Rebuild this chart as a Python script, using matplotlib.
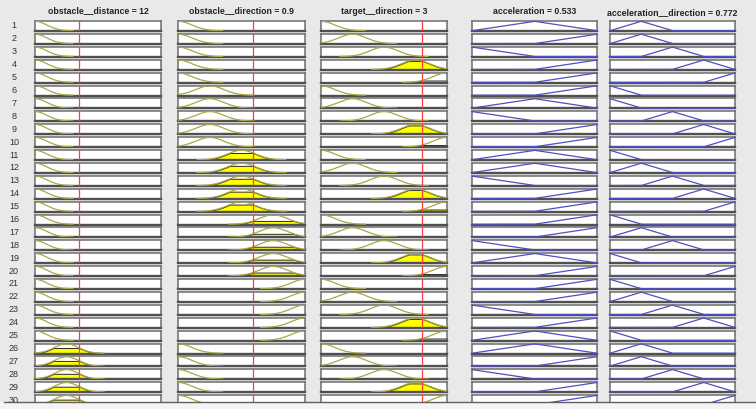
import numpy as np
import matplotlib.pyplot as plt
from matplotlib.patches import Rectangle
from matplotlib.lines import Line2D

plt.rcParams['font.family'] = ['Liberation Sans', 'DejaVu Sans']

# membership function used by each of the 30 rules
rules = list(range(1, 31))
obstacle_distance_mf = [1, 1, 1, 1, 1, 1, 1, 1, 1, 1, 1, 1, 1, 1, 1,
                        1, 1, 1, 1, 1, 1, 1, 1, 1, 1, 2, 2, 2, 2, 2]
obstacle_direction_mf = [1, 1, 1, 1, 1, 2, 2, 2, 2, 2, 3, 3, 3, 3, 3,
                         4, 4, 4, 4, 4, 5, 5, 5, 5, 5, 1, 1, 1, 1, 1]
target_direction_mf = [1, 2, 3, 4, 5, 1, 2, 3, 4, 5, 1, 2, 3, 4, 5,
                       1, 2, 3, 4, 5, 1, 2, 3, 4, 5, 1, 2, 3, 4, 5]
acceleration_mf = [2, 3, 1, 3, 3, 3, 2, 1, 3, 3, 2, 2, 1, 3, 3,
                   3, 3, 1, 2, 3, 3, 3, 1, 3, 2, 2, 3, 1, 3, 3]
acc_direction_mf = [2, 2, 3, 4, 5, 1, 1, 3, 4, 5, 1, 2, 3, 4, 5,
                    1, 2, 3, 1, 5, 1, 2, 3, 4, 1, 2, 2, 3, 4, 5]

# inputs: range, gaussian centres, sigma, current value
dist_range = [0, 34]
dist_centers = [0, 8.5]
dist_sigma = 3.2
dist_input = 12

dir_range = [-5, 5]
dir_centers = [-5, -2.5, 0, 2.5, 5]
dir_sigma = 1.1
obs_dir_input = 0.9
tgt_dir_input = 3

# outputs: triangular MFs on [0, 1]
acc_peaks = [0, 0.5, 1]
accdir_peaks = [0, 0.25, 0.5, 0.75, 1]

titles = ['obstacle__distance = 12', 'obstacle__direction = 0.9',
          'target__direction = 3', 'acceleration = 0.533',
          'acceleration__direction = 0.772']

W, H = 756, 409
fig = plt.figure(figsize=(W / 100, H / 100), dpi=100)
fig.patch.set_facecolor('#e9e9e9')

col_left = [35, 178, 321, 472, 610]
col_width = [126, 127, 126, 125, 125]
row_top0, row_pitch, row_h = 21, 12.9, 10

olive = '#a9a845'
blue = '#4f4fc4'


def gauss(x, c, s):
    return np.exp(-(x - c) ** 2 / (2 * s ** 2))


def tri(x, peaks, i):
    p = peaks[i]
    step = peaks[1] - peaks[0]
    return np.clip(1 - np.abs(x - p) / step, 0, 1)


def make_ax(r, c):
    top = row_top0 + r * row_pitch
    ax = fig.add_axes([col_left[c] / W, 1 - (top + row_h) / H,
                       col_width[c] / W, row_h / H])
    ax.set_facecolor('white')
    ax.set_xticks([])
    ax.set_yticks([])
    for s in ax.spines.values():
        s.set_color('#6d6d6d')
        s.set_linewidth(1.1)
    ax.spines['bottom'].set_color('#505050')
    ax.spines['bottom'].set_linewidth(1.7)
    ax.set_ylim(-0.03, 1.03)
    return ax


def input_mf(ax, rng, centers, sigma, idx, value):
    x = np.linspace(rng[0], rng[1], 300)
    y = gauss(x, centers[idx], sigma)
    level = gauss(value, centers[idx], sigma)
    m = y > 0.006
    if level > 0.03:
        ax.fill_between(x[m], 0, np.minimum(y, level)[m], facecolor='#ffff00',
                        edgecolor='#2a2a2a', linewidth=0.7, zorder=2)
    ax.plot(x[m], y[m], color=olive, lw=0.9, zorder=3)
    ax.axvline(value, color='#ff3b3b', lw=0.9, zorder=4)
    ax.set_xlim(rng)


def output_mf(ax, peaks, idx):
    x = np.linspace(0, 1, 401)
    ax.plot(x, tri(x, peaks, idx), color=blue, lw=0.9, clip_on=False, zorder=3)
    ax.set_xlim(0, 1)


for r in range(len(rules)):
    input_mf(make_ax(r, 0), dist_range, dist_centers, dist_sigma,
             obstacle_distance_mf[r] - 1, dist_input)
    input_mf(make_ax(r, 1), dir_range, dir_centers, dir_sigma,
             obstacle_direction_mf[r] - 1, obs_dir_input)
    input_mf(make_ax(r, 2), dir_range, dir_centers, dir_sigma,
             target_direction_mf[r] - 1, tgt_dir_input)
    output_mf(make_ax(r, 3), acc_peaks, acceleration_mf[r] - 1)
    output_mf(make_ax(r, 4), accdir_peaks, acc_direction_mf[r] - 1)
    yc = row_top0 + r * row_pitch + row_h / 2
    fig.text(14 / W, 1 - yc / H, str(rules[r]), fontsize=6.5, color='#333333',
             ha='center', va='center')

title_y = [11, 11, 11, 11, 13]
for c in range(5):
    fig.text((col_left[c] + col_width[c] / 2) / W, 1 - title_y[c] / H, titles[c],
             fontsize=6.3, fontweight='bold', color='#222222',
             ha='center', va='center')

# panel clipped at the bottom
fig.add_artist(Rectangle((0, 0), 1, 1 - 402 / H, transform=fig.transFigure,
                         facecolor='#f4f4f4', edgecolor='none', zorder=10))
fig.add_artist(Line2D([0.005, 1], [1 - 402 / H] * 2, transform=fig.transFigure,
                      color='#606060', lw=1.0, zorder=11))

fig.savefig('out.png', dpi=100, facecolor=fig.get_facecolor())
